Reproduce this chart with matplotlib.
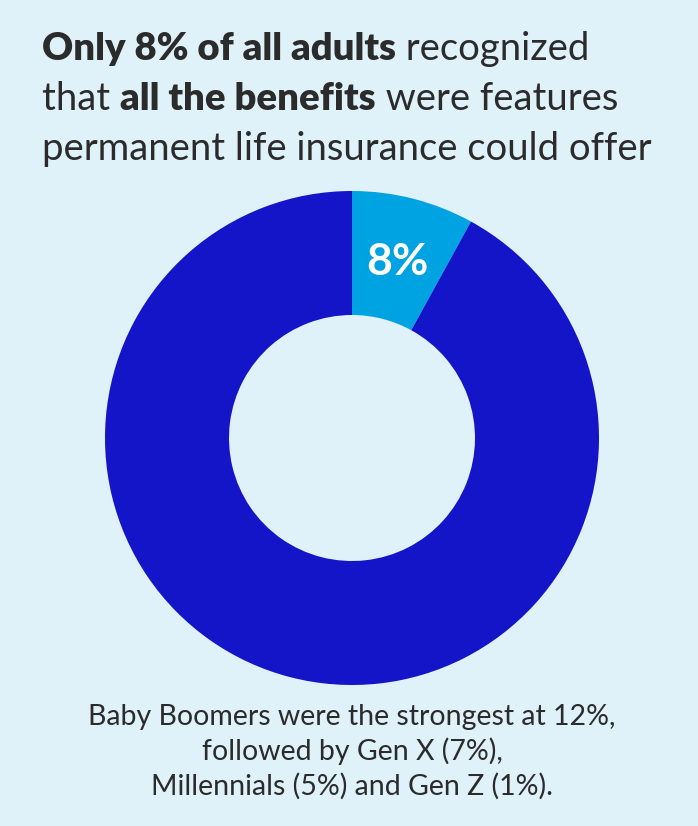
import matplotlib
matplotlib.use("Agg")
import matplotlib.pyplot as plt

# data
shares = [8, 92]
colors = ["#00a3e2", "#1414c8"]

title_lines = [
    [("Only 8% of all adults", "bold"), (" recognized", "normal")],
    [("that ", "normal"), ("all the benefits", "bold"), (" were features", "normal")],
    [("permanent life insurance could offer", "normal")],
]
note_lines = [
    "Baby Boomers were the strongest at 12%,",
    "followed by Gen X (7%),",
    "Millennials (5%) and Gen Z (1%).",
]

bg = "#dff1f9"
txt_color = "#2b2b2b"
W, H = 698, 826
plt.rcParams['font.family'] = ['Lato', 'DejaVu Sans']

fig = plt.figure(figsize=(W / 100, H / 100), dpi=100, facecolor=bg)

# donut, axes in pixel units (1 data unit = 1 px)
cx, cy, R = 352, 438, 247
ax = fig.add_axes([(cx - 250) / W, (H - cy - 250) / H, 500 / W, 500 / H])
ax.set_facecolor(bg)
wedges, _, autotexts = ax.pie(
    shares, colors=colors, radius=R, startangle=90, counterclock=False,
    wedgeprops=dict(width=124, linewidth=0),
    autopct=lambda p: f"{p:.0f}%" if p < 50 else "",
    pctdistance=182 / R,
    textprops=dict(color="white", fontsize=32, fontweight="bold"))
ax.set_xlim(-250, 250)
ax.set_ylim(-250, 250)
ax.set_aspect("equal")
ax.axis("off")

# title with mixed weights
fig.canvas.draw()
renderer = fig.canvas.get_renderer()
x0 = 42
baselines = [60, 110, 160]
for segs, yb in zip(title_lines, baselines):
    x = x0
    for s, w in segs:
        t = fig.text(x / W, 1 - yb / H, s, fontsize=27.5,
                     fontweight="heavy" if w == "bold" else w,
                     color=txt_color, va="baseline", ha="left")
        x += t.get_window_extent(renderer).width

# note under the donut
for s, yb in zip(note_lines, [725, 760, 795]):
    fig.text(352 / W, 1 - yb / H, s, fontsize=20.5, color=txt_color,
             ha="center", va="baseline")

fig.savefig("out.png", dpi=100, facecolor=bg)
